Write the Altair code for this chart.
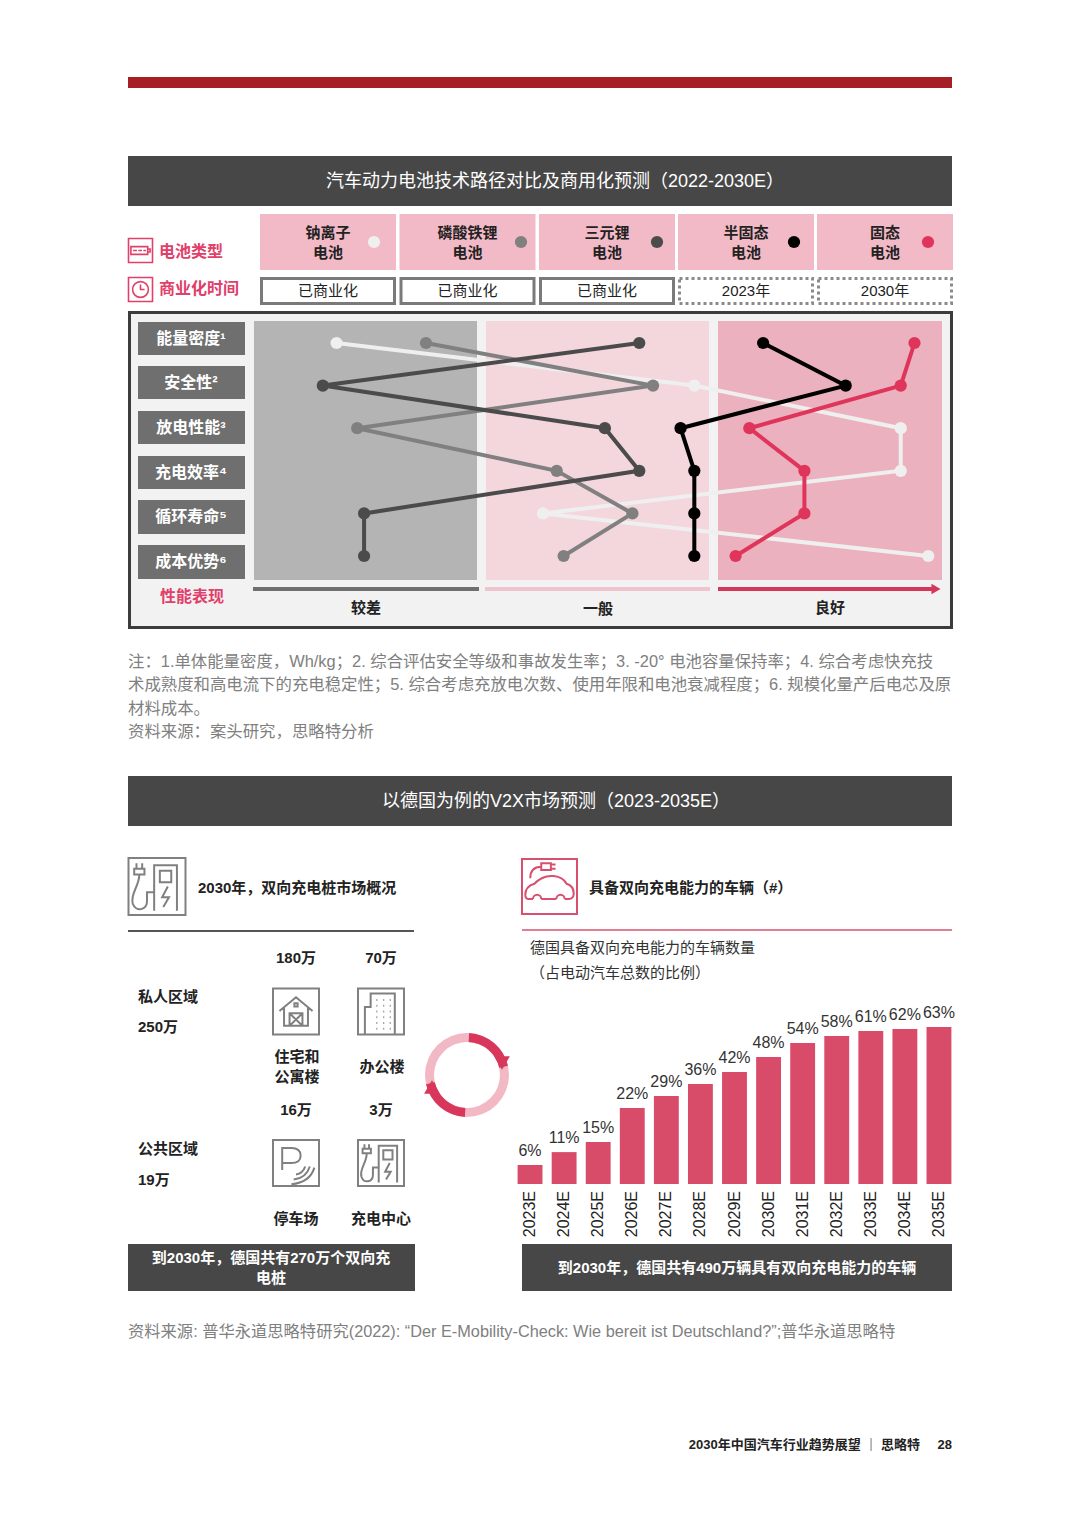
import math

import altair as alt
import pandas as pd

# ---------------- 数据 ----------------
BATTERIES = ["钠离子电池", "磷酸铁锂电池", "三元锂电池", "半固态电池", "固态电池"]
BATTERY_LABELS = ["钠离子\n电池", "磷酸铁锂\n电池", "三元锂\n电池", "半固态\n电池", "固态\n电池"]
BATTERY_COLORS = ["#efefef", "#808080", "#4b4b4b", "#000000", "#e0355b"]
COMMERCIAL = ["已商业化", "已商业化", "已商业化", "2023年", "2030年"]
DIMENSIONS = ["能量密度¹", "安全性²", "放电性能³", "充电效率⁴", "循环寿命⁵", "成本优势⁶"]
PERF_LEVELS = ["较差", "一般", "良好"]

# 性能得分 0(较差) ~ 100(良好)，按 DIMENSIONS 顺序
SODIUM = [12, 64, 94, 94, 42, 98]
LFP = [25, 58, 15, 44, 55, 45]
NCM = [56, 10, 51, 56, 16, 16]
SEMI_SOLID = [74, 86, 62, 64, 64, 64]
SOLID = [96, 94, 72, 80, 80, 70]

YEARS = ["2023E", "2024E", "2025E", "2026E", "2027E", "2028E", "2029E",
         "2030E", "2031E", "2032E", "2033E", "2034E", "2035E"]
VEHICLES = [73, 123, 162, 293, 340, 386, 432, 490, 544, 571, 590, 598, 606]  # 万辆
SHARES = [6, 11, 15, 22, 29, 36, 42, 48, 54, 58, 61, 62, 63]  # 占电动汽车总数 %

# ---------------- 版面 ----------------
OFF = 8
W, H = 1064, 1512
FONT = "Liberation Sans, Noto Sans CJK SC"
DARK = "#474747"
RED_TXT = "#e0406a"
BOX_LEFT = [260, 399.5, 539, 678, 817]
BOX_W = 136
DOT_X = [374, 521, 657, 794, 928]


def sx():
    return alt.Scale(domain=[OFF, W + OFF], range=[0, W], nice=False, zero=False)


def sy():
    return alt.Scale(domain=[OFF, H + OFF], range=[0, H], nice=False, zero=False)


def X(f="x"):
    return alt.X(f"{f}:Q", scale=sx(), axis=None)


def Y(f="y"):
    return alt.Y(f"{f}:Q", scale=sy(), axis=None)


def rects(rows, **kw):
    df = pd.DataFrame(rows, columns=["x", "y", "x2", "y2"])
    return alt.Chart(df).mark_rect(**kw).encode(x=X(), x2="x2:Q", y=Y(), y2="y2:Q")


def segs(rows, **kw):
    df = pd.DataFrame(rows, columns=["x", "y", "x2", "y2"])
    return alt.Chart(df).mark_rule(**kw).encode(x=X(), x2="x2:Q", y=Y(), y2="y2:Q")


def texts(rows, size=15, color="#222222", weight="normal", align="center", **kw):
    # 多行文字：y 是第一行的位置
    df = pd.DataFrame(rows, columns=["x", "y", "t"])
    return alt.Chart(df).mark_text(
        font=FONT, fontSize=size, color=color, fontWeight=weight, align=align,
        baseline="middle", lineBreak="\n", **kw
    ).encode(x=X(), y=Y(), text="t:N")


def icon(x, y, path, side, color, sw=2.0):
    df = pd.DataFrame({"x": [x], "y": [y]})
    return alt.Chart(df).mark_point(
        shape=path, size=side * side, filled=False, color=color, strokeWidth=sw, opacity=1
    ).encode(x=X(), y=Y())


def marker(x, y, shape, size, color):
    df = pd.DataFrame({"x": [x], "y": [y]})
    return alt.Chart(df).mark_point(
        shape=shape, size=size, filled=True, color=color, opacity=1
    ).encode(x=X(), y=Y())


BOX = "M-1,-1H1V1H-1Z"
P_CHARGER = (BOX + "M-0.1,0.85V-0.75H0.7V0.85M0.1,-0.55H0.5V-0.15H0.1Z"
             "M0.38,0L0.18,0.38H0.42L0.22,0.72"
             "M-0.72,-0.82V-0.62M-0.52,-0.82V-0.62M-0.8,-0.62H-0.44V-0.42H-0.8Z"
             "M-0.62,-0.42C-0.62,0 -0.95,0.25 -0.85,0.6C-0.75,0.9 -0.35,0.85 -0.35,0.5V0.2H-0.1")
P_HOUSE = (BOX + "M-0.72,-0.02L0,-0.62L0.72,-0.02M-0.52,-0.18V0.62H0.52V-0.18"
           "M-0.28,0.08H0.28V0.62H-0.28ZM-0.28,0.08L0.28,0.62M0.28,0.08L-0.28,0.62"
           "M-0.07,-0.36H0.07V-0.22H-0.07Z")
_dots = "".join(f"M{cx},{cy}h0.04" for cy in (-0.5, -0.25, 0, 0.25, 0.5, 0.75)
                for cx in (-0.2, 0.1, 0.38))
P_OFFICE = BOX + "M-0.7,1V-0.2H-0.45V-0.78H0.6V1" + _dots
P_PARK = (BOX + "M-0.6,0.3V-0.65H-0.2Q0.2,-0.65 0.2,-0.32Q0.2,0 -0.2,0H-0.6"
          "M0,0.5Q0.3,0.45 0.4,0.15M-0.1,0.72Q0.45,0.65 0.6,0.15M-0.2,0.92Q0.6,0.85 0.8,0.2")
P_CAR = (BOX + "M-0.6,0.45H-0.78Q-0.88,0.45 -0.88,0.3Q-0.88,0 -0.55,-0.1"
         "Q-0.25,-0.42 0.15,-0.38Q0.5,-0.34 0.62,-0.1Q0.88,-0.02 0.88,0.25Q0.88,0.45 0.7,0.45H0.55"
         "M-0.3,0.45H0.25M-0.6,0.45A0.15,0.15 0 0,1 -0.3,0.45M0.25,0.45A0.15,0.15 0 0,1 0.55,0.45"
         "M-0.3,-0.85H0.05V-0.6H-0.3ZM0.05,-0.8H0.22M0.05,-0.65H0.22M-0.3,-0.72Q-0.7,-0.72 -0.7,-0.3")
P_BATTERY = BOX + "M-0.8,-0.32H0.6V0.32H-0.8ZM0.6,-0.12H0.8V0.12H0.6M-0.62,0H-0.3M-0.18,0H0.12M0.24,0H0.45"
P_CLOCK = BOX + "M0.66,0A0.66,0.66 0 1,1 -0.66,0A0.66,0.66 0 1,1 0.66,0M0,-0.42V0H0.34"

layers = []

# 顶部红条 + 标题
layers.append(rects([(128, 77, 952, 88)], color="#a61f24"))
layers.append(rects([(128, 156, 952, 206), (128, 776, 952, 826)], color=DARK))
layers.append(texts([(555, 182, "汽车动力电池技术路径对比及商用化预测（2022-2030E）"),
                     (556, 802, "以德国为例的V2X市场预测（2023-2035E）")],
                    size=18, color="white"))

# 电池类型 / 商业化时间
layers.append(icon(140.5, 250.5, P_BATTERY, 24, RED_TXT, 1.6))
layers.append(icon(140.5, 289.5, P_CLOCK, 24, RED_TXT, 1.6))
layers.append(texts([(159, 252, "电池类型"), (159, 289, "商业化时间")],
                    size=16, color=RED_TXT, weight="bold", align="left"))
layers.append(rects([(l, 214, l + BOX_W, 270) for l in BOX_LEFT], color="#f2b9c6"))
layers.append(texts([(l + BOX_W / 2, 233, n) for l, n in zip(BOX_LEFT, BATTERY_LABELS)],
                    size=15, weight="bold", lineHeight=20))
dots = pd.DataFrame({"battery": BATTERIES, "x": DOT_X, "y": [242] * 5})
layers.append(
    alt.Chart(dots).mark_circle(size=150, opacity=1).encode(
        x=X(), y=Y(),
        color=alt.Color("battery:N", scale=alt.Scale(domain=BATTERIES, range=BATTERY_COLORS),
                        legend=None))
)
layers.append(rects([(l + 1.5, 278.5, l + BOX_W - 1.5, 303.5) for l in BOX_LEFT[:3]],
                    fill="white", stroke="#7a7a7a", strokeWidth=3))
layers.append(rects([(l + 1.5, 278.5, l + BOX_W - 1.5, 303.5) for l in BOX_LEFT[3:]],
                    fill="white", stroke="#8a8a8a", strokeWidth=3, strokeDash=[3, 3]))
layers.append(texts([(l + BOX_W / 2, 291, c) for l, c in zip(BOX_LEFT, COMMERCIAL)], size=15))

# 性能对比面板
layers.append(rects([(129.5, 312.5, 951.5, 627.5)], fill="#f2f2f2", stroke="#3c3c3c",
                    strokeWidth=3))
ROW_BOX = [(322, 355), (366, 399), (411, 444), (456, 489), (500, 534), (545, 579)]
layers.append(rects([(138, a, 245, b) for a, b in ROW_BOX], color="#6f6f6f"))
layers.append(texts([(191, (a + b) / 2, d) for (a, b), d in zip(ROW_BOX, DIMENSIONS)],
                    size=16, color="white", weight="bold"))
layers.append(rects([(254, 321, 477, 580)], color="#b4b4b4"))
layers.append(rects([(486, 321, 709, 580)], color="#f4d6dd"))
layers.append(rects([(718, 321, 942, 580)], color="#ebb1be"))
layers.append(segs([(253, 589, 479, 589)], color="#6f6f6f", strokeWidth=4))
layers.append(segs([(485, 589, 710, 589)], color="#f0c4ce", strokeWidth=4))
layers.append(segs([(718, 589, 934, 589)], color="#d5375a", strokeWidth=4))
layers.append(marker(936, 589, "triangle-right", 110, "#d5375a"))
layers.append(texts([(366, 608, PERF_LEVELS[0]), (598, 609, PERF_LEVELS[1]),
                     (830, 608, PERF_LEVELS[2])], size=15, weight="bold"))
layers.append(texts([(192, 597, "性能表现")], size=16, color=RED_TXT, weight="bold"))

# 折线（得分 -> x，维度 -> y）
perf_rows = []
for b, vals in zip(BATTERIES, [SODIUM, LFP, NCM, SEMI_SOLID, SOLID]):
    for i, (d, v) in enumerate(zip(DIMENSIONS, vals)):
        perf_rows.append({"battery": b, "dim": d, "idx": i, "score": v})
perf = pd.DataFrame(perf_rows)
perf_x = alt.X("score:Q", axis=None,
               scale=alt.Scale(domain=[0, 100], range=[254 - OFF, 942 - OFF], nice=False, zero=False))
perf_y = alt.Y("dim:O", axis=None,
               scale=alt.Scale(type="point", domain=DIMENSIONS, range=[343 - OFF, 556 - OFF], padding=0))
perf_color = alt.Color("battery:N", scale=alt.Scale(domain=BATTERIES, range=BATTERY_COLORS), legend=None)
for b in BATTERIES:
    base = alt.Chart(perf).transform_filter(alt.datum.battery == b)
    layers.append(base.mark_line(strokeWidth=4).encode(
        x=perf_x, y=perf_y, color=perf_color, order=alt.Order("idx:Q")))
    layers.append(base.mark_circle(size=150, opacity=1).encode(x=perf_x, y=perf_y, color=perf_color))

# 注释
NOTES = [
    "注：1.单体能量密度，Wh/kg；2. 综合评估安全等级和事故发生率；3. -20° 电池容量保持率；4. 综合考虑快充技",
    "术成熟度和高电流下的充电稳定性；5. 综合考虑充放电次数、使用年限和电池衰减程度；6. 规模化量产后电芯及原",
    "材料成本。",
    "资料来源：案头研究，思略特分析",
]
layers.append(texts([(128, 662 + 23.3 * i, t) for i, t in enumerate(NOTES)],
                    size=16.4, color="#808080", align="left"))

# 左侧：双向充电桩
layers.append(icon(157, 886.5, P_CHARGER, 57, "#808080", 2))
layers.append(texts([(198, 888, "2030年，双向充电桩市场概况")], size=15, weight="bold", align="left"))
layers.append(segs([(128, 931, 414, 931)], color="#555555", strokeWidth=2))
layers.append(texts([(138, 997, "私人区域"), (138, 1027, "250万"),
                     (138, 1149, "公共区域"), (138, 1180, "19万")],
                    size=15, weight="bold", align="left"))
layers.append(texts([(296, 958, "180万"), (381, 958, "70万"),
                     (297, 1057, "住宅和\n公寓楼"), (382, 1067, "办公楼"),
                     (296, 1110, "16万"), (381, 1110, "3万"),
                     (296, 1219, "停车场"), (381, 1219, "充电中心")],
                    size=15, weight="bold", lineHeight=20))
layers.append(icon(296, 1011.5, P_HOUSE, 46, "#808080", 2))
layers.append(icon(381, 1011.5, P_OFFICE, 46, "#808080", 2))
layers.append(icon(296, 1163, P_PARK, 46, "#808080", 2))
layers.append(icon(381, 1163, P_CHARGER, 46, "#808080", 2))
layers.append(rects([(128, 1244, 415, 1291), (522, 1244, 952, 1291)], color=DARK))
layers.append(texts([(271, 1258, "到2030年，德国共有270万个双向充\n电桩"),
                     (737, 1268, "到2030年，德国共有490万辆具有双向充电能力的车辆")],
                    size=15, color="white", weight="bold", lineHeight=20))

# 中间循环箭头
ring = pd.DataFrame({"x": [467] * 3, "y": [1075] * 3,
                     "t1": [0, 0.05, math.pi + 0.05],
                     "t2": [2 * math.pi, 1.35, math.pi + 1.35],
                     "c": ["#f2b8c4", "#d8375b", "#d8375b"]})
layers.append(alt.Chart(ring).mark_arc(innerRadius=33, outerRadius=42).encode(
    x=X(), y=Y(),
    theta=alt.Theta("t1:Q", scale=None, stack=None), theta2="t2:Q",
    color=alt.Color("c:N", scale=None)))
layers.append(marker(502, 1063, "triangle-down", 250, "#d8375b"))
layers.append(marker(432, 1087, "triangle-up", 250, "#d8375b"))

# 右侧：车辆柱状图
layers.append(icon(549.5, 886.5, P_CAR, 55, "#d9506e", 2))
layers.append(texts([(589, 888, "具备双向充电能力的车辆（#）")], size=15, weight="bold", align="left"))
layers.append(segs([(522, 930, 952, 930)], color="#e27e93", strokeWidth=2))
layers.append(texts([(530, 948, "德国具备双向充电能力的车辆数量"), (530, 973, "（占电动汽车总数的比例）")],
                    size=15, color="#333333", align="left"))

bars_df = pd.DataFrame({"year": YEARS, "veh": VEHICLES, "share": [f"{s}%" for s in SHARES]})
bx = alt.X("year:O", axis=None,
           scale=alt.Scale(type="band", domain=YEARS, range=[513 - OFF, 956 - OFF],
                           paddingInner=0.27, paddingOuter=0.135))
by = alt.Y("veh:Q", axis=None,
           scale=alt.Scale(domain=[0, 490], range=[1184 - OFF, 1057 - OFF], nice=False, zero=True))
bars = alt.Chart(bars_df)
layers.append(bars.mark_bar(color="#d84c69").encode(x=bx, y=by))
layers.append(bars.mark_text(font=FONT, fontSize=16, color="#333333", baseline="bottom", dy=-6)
              .encode(x=bx, y=by, text="share:N"))
layers.append(bars.mark_text(font=FONT, fontSize=16, color="#222222", angle=270, align="right",
                             baseline="middle")
              .encode(x=bx, y=alt.value(1191 - OFF), text="year:N"))

# 页脚
layers.append(texts([(128, 1332, "资料来源: 普华永道思略特研究(2022): “Der E-Mobility-Check: Wie bereit ist Deutschland?”;普华永道思略特")],
                    size=16.3, color="#808080", align="left"))
layers.append(texts([(920, 1445, "2030年中国汽车行业趋势展望 ｜ 思略特")],
                    size=13, weight="bold", align="right"))
layers.append(texts([(952, 1445, "28")], size=13, weight="bold", align="right"))

chart = (
    alt.layer(*layers)
    .resolve_scale(x="independent", y="independent")
    .properties(width=W, height=H, autosize=alt.AutoSizeParams(type="none"), padding=0,
                background="white")
    .configure_view(stroke=None)
)
chart.save("out.html", embed_options={"renderer": "svg", "actions": False})
